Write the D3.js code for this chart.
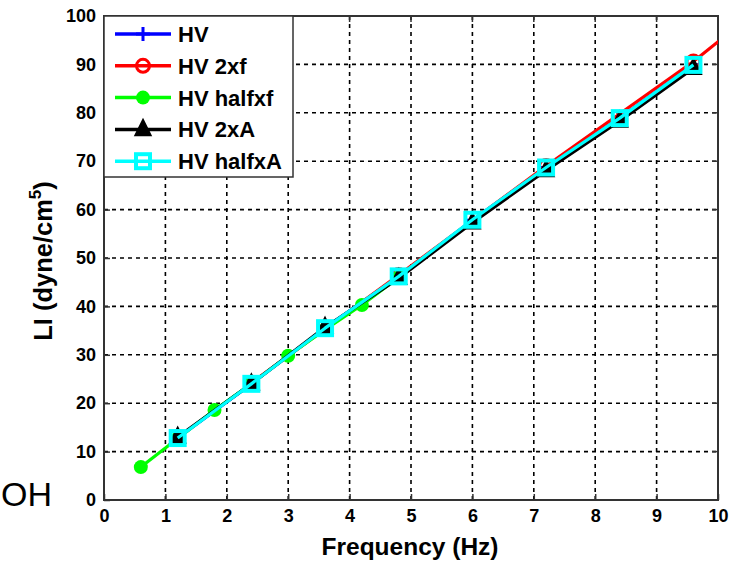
<!DOCTYPE html>
<html><head><meta charset="utf-8">
<script src="https://cdn.jsdelivr.net/npm/d3@7"></script>
<style>body{margin:0;background:#fff;} svg{display:block;font-family:"Liberation Sans",Arial,sans-serif;}</style>
</head><body>
<svg id="c" width="746" height="563"></svg>
<script>
const xTicks = [0,1,2,3,4,5,6,7,8,9,10];
const yTicks = [0,10,20,30,40,50,60,70,80,90,100];
const seriesNames = ["HV","HV 2xf","HV halfxf","HV 2xA","HV halfxA"];
const hvX = [1.2,2.4,3.6,4.8,6.0,7.2,8.4,9.6];
const hvY = [12.8,24.0,35.5,46.2,57.8,68.7,78.9,89.9];
const f2X = [2.4,4.8,7.2,9.6,12.0];
const f2Y = [24.2,46.5,69.0,90.6,115.0];
const fhX = [0.6,1.2,1.8,2.4,3.0,3.6,4.2,4.8];
const fhY = [6.8,12.7,18.6,24.0,29.8,35.2,40.3,46.0];
const a2X = [1.2,2.4,3.6,4.8,6.0,7.2,8.4,9.6];
const a2Y = [13.0,24.0,35.7,45.8,57.3,68.1,78.3,89.2];
const ahX = [1.2,2.4,3.6,4.8,6.0,7.2,8.4,9.6];
const ahY = [12.8,24.0,35.5,46.2,57.9,68.7,78.9,89.9];

const colors = ["#0000ff","#ff0000","#00ff00","#000000","#00ffff"];
const markers = ["plus","circle","dot","tri","square"];
const seriesX = [hvX,f2X,fhX,a2X,ahX];
const seriesY = [hvY,f2Y,fhY,a2Y,ahY];

const L=104,R=718,T=16,B=500;
const x = d3.scaleLinear().domain([0,10]).range([L,R]);
const y = d3.scaleLinear().domain([0,100]).range([B,T]);
const svg = d3.select("#c");

svg.append("defs").append("clipPath").attr("id","clip").append("rect")
  .attr("x",L).attr("y",T).attr("width",R-L).attr("height",B-T);

// grid
const g = svg.append("g");
g.selectAll(".gx").data(xTicks.slice(1,-1)).enter().append("line")
  .attr("x1",d=>x(d)).attr("x2",d=>x(d)).attr("y1",T).attr("y2",B)
  .attr("stroke","#000").attr("stroke-width",1.6).attr("stroke-dasharray","4,4");
g.selectAll(".gy").data(yTicks.slice(1,-1)).enter().append("line")
  .attr("y1",d=>y(d)).attr("y2",d=>y(d)).attr("x1",L).attr("x2",R)
  .attr("stroke","#000").attr("stroke-width",1.6).attr("stroke-dasharray","4,4");

// axes
const ax = svg.append("g").attr("transform",`translate(0,${B})`)
  .call(d3.axisBottom(x).tickValues(xTicks).tickSize(-6).tickPadding(9).tickFormat(d3.format("d")));
const ay = svg.append("g").attr("transform",`translate(${L},0)`)
  .call(d3.axisLeft(y).tickValues(yTicks).tickSize(-6).tickPadding(8).tickFormat(d3.format("d")));
[ax,ay].forEach(a=>{
  a.select(".domain").remove();
  a.selectAll("line").attr("stroke","#333").attr("stroke-width",1.5);
  a.selectAll("text").attr("font-size",18).attr("font-weight","bold").attr("fill","#000")
   .attr("font-family","Liberation Sans, Arial, sans-serif");
});
// top/right ticks
svg.append("g").selectAll("line").data(xTicks).enter().append("line")
  .attr("x1",d=>x(d)).attr("x2",d=>x(d)).attr("y1",T).attr("y2",T+6).attr("stroke","#333").attr("stroke-width",1.5);
svg.append("g").selectAll("line").data(yTicks).enter().append("line")
  .attr("y1",d=>y(d)).attr("y2",d=>y(d)).attr("x1",R).attr("x2",R-6).attr("stroke","#333").attr("stroke-width",1.5);

// frame
svg.append("rect").attr("x",L).attr("y",T).attr("width",R-L).attr("height",B-T)
  .attr("fill","none").attr("stroke","#333").attr("stroke-width",2);

function drawMarker(sel, type, color, cx, cy){
  if(type==="plus"){
    sel.append("path").attr("d",`M${cx-7},${cy}H${cx+7}M${cx},${cy-7}V${cy+7}`)
      .attr("stroke",color).attr("stroke-width",3).attr("fill","none");
  } else if(type==="circle"){
    sel.append("circle").attr("cx",cx).attr("cy",cy).attr("r",6.5)
      .attr("fill","none").attr("stroke",color).attr("stroke-width",3);
  } else if(type==="dot"){
    sel.append("circle").attr("cx",cx).attr("cy",cy).attr("r",7).attr("fill",color);
  } else if(type==="tri"){
    sel.append("path").attr("d",`M${cx},${cy-10}L${cx+8},${cy+6}L${cx-8},${cy+6}Z`)
      .attr("fill",color).attr("stroke",color).attr("stroke-width",1.5);
  } else if(type==="square"){
    sel.append("rect").attr("x",cx-7).attr("y",cy-7).attr("width",14).attr("height",14)
      .attr("fill","none").attr("stroke",color).attr("stroke-width",4);
  }
}

const plot = svg.append("g").attr("clip-path","url(#clip)");
const line = d3.line().x(d=>x(d[0])).y(d=>y(d[1]));
seriesNames.forEach((n,i)=>{
  const pts = seriesX[i].map((v,j)=>[v,seriesY[i][j]]);
  const gg = plot.append("g");
  gg.append("path").datum(pts).attr("d",line).attr("fill","none")
    .attr("stroke",colors[i]).attr("stroke-width",3.2).attr("stroke-linejoin","round");
  pts.forEach(p=>drawMarker(gg, markers[i], colors[i], x(p[0]), y(p[1])));
});

// legend
const lg = svg.append("g");
lg.append("rect").attr("x",104).attr("y",16).attr("width",189).attr("height",161)
  .attr("fill","#fff").attr("stroke","#333").attr("stroke-width",1.5);
seriesNames.forEach((n,i)=>{
  const ly = 34 + i*31.8;
  lg.append("line").attr("x1",115).attr("x2",171).attr("y1",ly).attr("y2",ly)
    .attr("stroke",colors[i]).attr("stroke-width",3.5);
  drawMarker(lg, markers[i], colors[i], 143, ly);
  lg.append("text").attr("x",178).attr("y",ly+8).text(n)
    .attr("font-size",22).attr("font-weight","bold").attr("fill","#000");
});

// axis labels
svg.append("text").attr("x",410).attr("y",555).attr("text-anchor","middle")
  .attr("font-size",24.5).attr("font-weight","bold").text("Frequency (Hz)");
const yl = svg.append("text").attr("transform","translate(52,261) rotate(-90)")
  .attr("text-anchor","middle").attr("font-size",25.5).attr("font-weight","bold");
yl.append("tspan").text("LI (dyne/cm");
yl.append("tspan").attr("dy",-11).attr("font-size",17).text("5");
yl.append("tspan").attr("dy",11).text(")");

svg.append("text").attr("x",1).attr("y",506).attr("font-size",34).attr("fill","#000").text("OH");
</script>
</body></html>
